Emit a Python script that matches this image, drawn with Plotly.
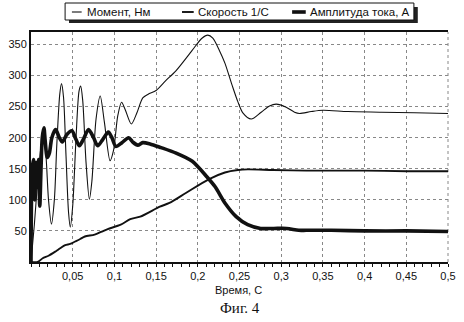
import plotly.graph_objects as go

# Time samples and series values
t_moment = [0.000, 0.004, 0.008, 0.012, 0.015, 0.018, 0.021, 0.0245, 0.028, 0.031,
            0.0345, 0.0366, 0.039, 0.042, 0.045, 0.0471, 0.050, 0.054, 0.0576, 0.0596,
            0.062, 0.066, 0.0700, 0.073, 0.078, 0.083, 0.088, 0.0948, 0.099, 0.104,
            0.1086, 0.113, 0.1203, 0.127, 0.134, 0.1405, 0.150, 0.161, 0.174, 0.193,
            0.205, 0.212, 0.218, 0.226, 0.2325, 0.241, 0.248, 0.254, 0.264, 0.276,
            0.286, 0.294, 0.306, 0.316, 0.322, 0.336, 0.350, 0.38, 0.42, 0.46, 0.5]
moment = [0, 60, 130, 185, 205, 170, 100, 61, 100, 190,
          270, 287, 265, 170, 80, 56, 90, 200, 275, 283,
          260, 160, 101, 130, 230, 267, 225, 163, 180, 235,
          257, 245, 222, 240, 264, 270, 276, 291, 308, 340,
          360, 365, 360, 340, 320, 285, 258, 240, 230, 241,
          251, 254, 249, 241, 239, 242, 244, 242, 241, 240, 239]

t_speed = [0.000, 0.008, 0.014, 0.021, 0.0295, 0.035, 0.041, 0.047, 0.053, 0.059,
           0.0646, 0.0763, 0.085, 0.092, 0.1076, 0.119, 0.131, 0.1545, 0.166, 0.1857,
           0.213, 0.2325, 0.248, 0.26, 0.29, 0.33, 0.4, 0.45, 0.5]
speed = [0, 0, 6, 10, 17, 22, 27, 29, 33, 37,
         41, 44, 49, 53, 60, 69, 73, 89, 95, 111,
         133, 144, 148, 149, 148, 147, 147, 146, 146]

t_current = [0.000, 0.0015, 0.003, 0.0045, 0.006, 0.0075, 0.009, 0.0105, 0.012, 0.0135,
             0.0155, 0.017, 0.0195, 0.022, 0.025, 0.0295, 0.034, 0.0375, 0.043, 0.049,
             0.054, 0.058, 0.063, 0.069, 0.075, 0.080, 0.086, 0.0927, 0.097, 0.1017,
             0.109, 0.117, 0.122, 0.128, 0.134, 0.1427, 0.156, 0.174, 0.1934, 0.201,
             0.209, 0.2208, 0.2325, 0.246, 0.2598, 0.2754, 0.291, 0.3066, 0.321, 0.33,
             0.36, 0.4, 0.45, 0.5]
current = [0, 150, 165, 100, 160, 120, 165, 90, 150, 200,
           216, 195, 168, 175, 200, 213, 200, 193, 205, 211,
           197, 187, 198, 213, 200, 187, 197, 209, 200, 186,
           192, 200, 193, 188, 192, 190, 184, 175, 162, 152,
           140, 121, 95, 73, 60, 54, 54, 54, 51, 51,
           51, 50, 50, 49]

series_names = ["Момент, Нм", "Скорость 1/С", "Амплитуда тока, А"]

x_tickvals = [0.05, 0.1, 0.15, 0.2, 0.25, 0.3, 0.35, 0.4, 0.45, 0.5]
x_ticktext = ["0,05", "0,1", "0,15", "0,2", "0,25", "0,3", "0,35", "0,4", "0,45", "0,5"]
y_tickvals = [50, 100, 150, 200, 250, 300, 350]
y_ticktext = ["50", "100", "150", "200", "250", "300", "350"]

x_title = "Время, С"
caption = "Фиг. 4"

widths = [1.1, 1.9, 3.6]
ink = "#111111"
font_sans = "Liberation Sans, Arial, sans-serif"

fig = go.Figure()
for name, tx, ys, w in zip(series_names, [t_moment, t_speed, t_current],
                           [moment, speed, current], widths):
    fig.add_trace(go.Scatter(
        x=tx, y=ys, name=name, mode="lines",
        line=dict(color=ink, width=w, shape="spline", smoothing=0.8),
        showlegend=False, hoverinfo="skip"))

# Plot area in pixels
L, R, T, B = 28, 8, 32, 60
W, H = 464, 322
pw, ph = W - L - R, H - T - B


def px_x(px):
    return (px - L) / pw


def px_y(py):
    return (H - B - py) / ph


shapes = []
annotations = []

# Legend box with drop shadow
bx0, bx1, by0, by1 = 63, 421, 3, 20
shapes.append(dict(type="rect", xref="paper", yref="paper",
                   x0=px_x(bx0 + 4), x1=px_x(bx1 + 4), y0=px_y(by1 + 3), y1=px_y(by0 + 4),
                   fillcolor="#222222", line=dict(width=0), layer="above"))
shapes.append(dict(type="rect", xref="paper", yref="paper",
                   x0=px_x(bx0), x1=px_x(bx1), y0=px_y(by1), y1=px_y(by0),
                   fillcolor="white", line=dict(color=ink, width=1), layer="above"))
legend_items = [(70, 80, 83), (183, 195, 197), (296, 310, 312)]
ly = 12
for (lx0, lx1, tx0), name, w in zip(legend_items, series_names, widths):
    shapes.append(dict(type="line", xref="paper", yref="paper",
                       x0=px_x(lx0), x1=px_x(lx1), y0=px_y(ly), y1=px_y(ly),
                       line=dict(color=ink, width=w), layer="above"))
    annotations.append(dict(text=name, xref="paper", yref="paper",
                            x=px_x(tx0), y=px_y(ly), xanchor="left", yanchor="middle",
                            showarrow=False, font=dict(family=font_sans, size=11.5, color=ink)))

# Dashed grid line along the right edge
shapes.append(dict(type="line", xref="paper", yref="paper", x0=1, x1=1, y0=0, y1=1,
                   line=dict(color="#888888", width=1, dash="3px,3px"), layer="below"))

annotations.append(dict(text=x_title, xref="paper", yref="paper",
                        x=px_x(241), y=px_y(290), xanchor="center", yanchor="middle",
                        showarrow=False, font=dict(family=font_sans, size=11, color=ink)))
annotations.append(dict(text=caption, xref="paper", yref="paper",
                        x=px_x(242), y=px_y(308), xanchor="center", yanchor="middle",
                        showarrow=False,
                        font=dict(family="Liberation Serif, Times New Roman, serif",
                                  size=15, color=ink)))

fig.update_layout(
    width=W, height=H,
    margin=dict(l=L, r=R, t=T, b=B, pad=0),
    paper_bgcolor="white", plot_bgcolor="white",
    showlegend=False,
    shapes=shapes, annotations=annotations,
    xaxis=dict(range=[0, 0.5], tickmode="array", tickvals=x_tickvals, ticktext=x_ticktext,
               showgrid=True, gridcolor="#888888", griddash="3px,3px", gridwidth=1,
               showline=True, linecolor=ink, linewidth=2, mirror=True,
               ticks="outside", ticklen=3, tickcolor=ink,
               minor=dict(dtick=0.01, ticks="outside", ticklen=3, tickcolor=ink, showgrid=False),
               zeroline=False, tickfont=dict(family=font_sans, size=11, color=ink)),
    yaxis=dict(range=[0, 370], tickmode="array", tickvals=y_tickvals, ticktext=y_ticktext,
               showgrid=True, gridcolor="#888888", griddash="3px,3px", gridwidth=1,
               showline=True, linecolor=ink, linewidth=2,
               ticks="", zeroline=False,
               tickfont=dict(family=font_sans, size=11, color=ink)),
)

fig.write_html("out.html")
